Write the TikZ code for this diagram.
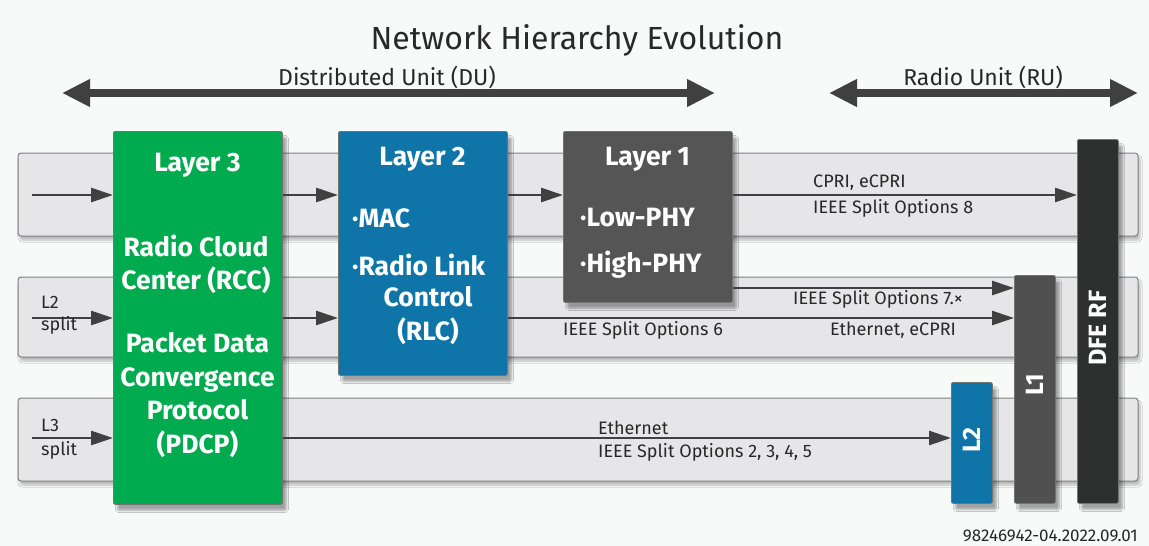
\documentclass[tikz,border=0pt]{standalone}
\usepackage{fontspec}
\setmainfont{Fira Sans}
\usetikzlibrary{arrows.meta,shadows.blur}

\definecolor{bgcol}{RGB}{248,249,249}
\definecolor{rowfill}{RGB}{230,230,232}
\definecolor{rowline}{RGB}{128,128,130}
\definecolor{arrowcol}{RGB}{64,64,64}
\definecolor{greenL}{RGB}{0,170,78}
\definecolor{blueL}{RGB}{15,117,168}
\definecolor{grayL}{RGB}{85,85,85}
\definecolor{grayM}{RGB}{80,80,80}
\definecolor{darkL}{RGB}{46,48,48}
\definecolor{textcol}{RGB}{40,40,40}

\tikzset{
  rowband/.style={draw=rowline, fill=rowfill, line width=1pt, rounded corners=3pt,
    blur shadow={shadow xshift=2pt, shadow yshift=-4pt, shadow blur steps=6, shadow opacity=25}},
  layerbox/.style={draw=black!55, line width=0.8pt, rounded corners=2pt, anchor=north west,
    inner sep=0pt, blur shadow={shadow xshift=4pt, shadow yshift=-6pt, shadow blur steps=8, shadow opacity=35}},
  boxtext/.style={text=white, font=\fontsize{26.5}{33.5}\selectfont\bfseries, inner sep=0pt, align=center},
  bartext/.style={text=white, font=\fontsize{25}{27}\selectfont\bfseries, rotate=90, inner sep=0pt},
  smalltext/.style={text=textcol, font=\fontsize{18}{20}\selectfont, inner sep=0pt, anchor=west},
  flow/.style={draw=arrowcol, line width=2.8pt, -{Triangle[length=22pt,width=14pt]}},
  span/.style={draw=arrowcol, line width=8pt, {Triangle[length=28pt,width=26pt]}-{Triangle[length=28pt,width=26pt]}},
}

\begin{document}
\begin{tikzpicture}[x=1pt, y=-1pt]
  % canvas
  \fill[bgcol] (0,0) rectangle (1149,546);
  \useasboundingbox (0,0) rectangle (1149,546);

  % headings
  \node[text=textcol, font=\fontsize{32}{36}\selectfont, inner sep=0pt] (title) at (577,40) {Network Hierarchy Evolution};
  \node[text=textcol, font=\fontsize{23}{26}\selectfont, inner sep=0pt] (dulab) at (387,77) {Distributed Unit (DU)};
  \node[text=textcol, font=\fontsize{23}{26}\selectfont, inner sep=0pt] (rulab) at (983,77) {Radio Unit (RU)};
  \coordinate (duL) at (62,93);
  \coordinate (duR) at (715,93);
  \coordinate (ruL) at (829,93);
  \coordinate (ruR) at (1138,93);
  \draw[span] (duL) -- (duR);
  \draw[span] (ruL) -- (ruR);

  % horizontal split bands
  \path[rowband] (18,153) rectangle (1138,236);
  \path[rowband] (18,277) rectangle (1138,357);
  \path[rowband] (18,398) rectangle (1138,481);

  % protocol layer boxes
  \node[layerbox, fill=greenL, minimum width=169pt, minimum height=373pt] (lay3) at (113,131) {};
  \node[layerbox, fill=blueL, minimum width=169pt, minimum height=244pt] (lay2) at (338,131) {};
  \node[layerbox, fill=grayL, minimum width=169pt, minimum height=171pt] (lay1) at (563,131) {};

  % radio unit blocks
  \node[layerbox, fill=darkL, minimum width=41pt, minimum height=364pt] (dfe) at (1077,139) {};
  \node[layerbox, fill=grayM, minimum width=41pt, minimum height=228pt] (ruL1) at (1014,275) {};
  \node[layerbox, fill=blueL, minimum width=41pt, minimum height=121pt] (ruL2) at (951,382) {};

  % layer 3 text
  \node[boxtext] (t3a) at (197.5,165) {Layer 3};
  \node[boxtext] (t3b) at (196,264.5) {Radio Cloud\\Center (RCC)};
  \node[boxtext] (t3c) at (197.5,395) {Packet Data\\Convergence\\Protocol\\(PDCP)};

  % layer 2 text
  \node[boxtext] (t2a) at (422.5,159) {Layer 2};
  \node[boxtext, anchor=west] (t2b) at (352,218) {·MAC};
  \node[boxtext, anchor=west] (t2c) at (352,265) {·Radio Link};
  \node[boxtext] (t2d) at (428,315.5) {Control\\(RLC)};

  % layer 1 text
  \node[boxtext] (t1a) at (647.5,159) {Layer 1};
  \node[boxtext, anchor=west] (t1b) at (580,218) {·Low-PHY};
  \node[boxtext, anchor=west] (t1c) at (580,265) {·High-PHY};

  % vertical labels
  \node[bartext] (tdfe) at (1097.5,328) {DFE RF};
  \node[bartext] (tl1) at (1034.5,385) {L1};
  \node[bartext] (tl2) at (971.5,440) {L2};

  % row 1 flows
  \coordinate (in1) at (32,195);
  \draw[flow] (in1) -- (lay3.west |- in1);
  \draw[flow] (lay3.east |- in1) -- (lay2.west |- in1);
  \draw[flow] (lay2.east |- in1) -- (lay1.west |- in1);
  \draw[flow] (lay1.east |- in1) -- (dfe.west |- in1);

  % row 2 flows
  \coordinate (in2) at (32,318);
  \coordinate (phy2) at (0,288);
  \draw[flow] (in2) -- (lay3.west |- in2);
  \draw[flow] (lay3.east |- in2) -- (lay2.west |- in2);
  \draw[flow] (lay2.east |- in2) -- (ruL1.west |- in2);
  \draw[flow] (lay1.east |- phy2) -- (ruL1.west |- phy2);

  % row 3 flows
  \coordinate (in3) at (32,438);
  \draw[flow] (in3) -- (lay3.west |- in3);
  \draw[flow] (lay3.east |- in3) -- (ruL2.west |- in3);

  % interface labels
  \node[smalltext] (c1) at (813,183) {CPRI, eCPRI};
  \node[smalltext] (c2) at (813,208) {IEEE Split Options 8};
  \node[smalltext] (c3) at (793,299) {IEEE Split Options 7.×};
  \node[smalltext] (c4) at (563,330) {IEEE Split Options 6};
  \node[smalltext] (c5) at (830,330) {Ethernet, eCPRI};
  \node[smalltext] (c6) at (598,428) {Ethernet};
  \node[smalltext] (c7) at (598,452) {IEEE Split Options 2, 3, 4, 5};
  \node[smalltext] (s2a) at (41,302) {L2};
  \node[smalltext] (s2b) at (41,325) {split};
  \node[smalltext] (s3a) at (41,425) {L3};
  \node[smalltext] (s3b) at (41,450) {split};

  % document number
  \node[text=textcol, font=\fontsize{17}{19}\selectfont, inner sep=0pt, anchor=east] (docno) at (1138,536) {98246942-04.2022.09.01};
\end{tikzpicture}
\end{document}
